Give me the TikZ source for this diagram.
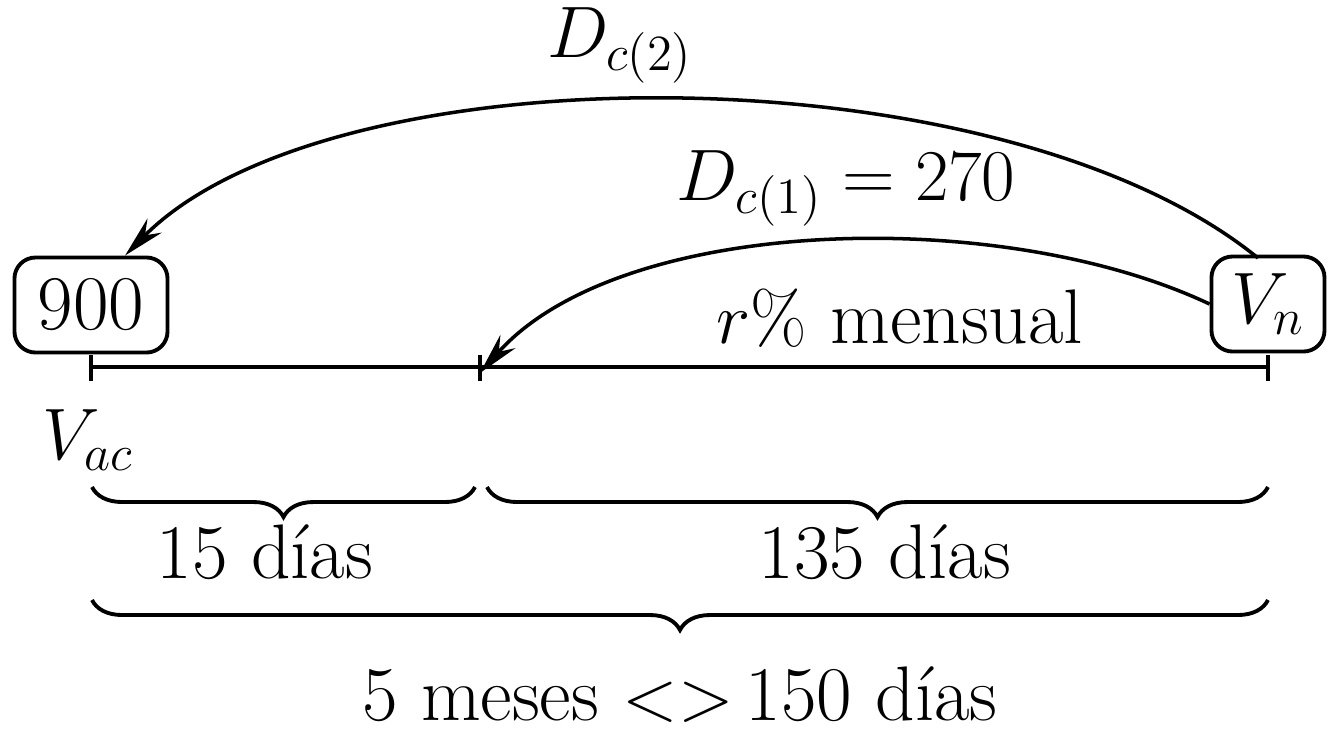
\documentclass[tikz,border=0pt]{standalone}
\usepackage{amsmath,amssymb}
\usepackage{tikz}
\usetikzlibrary{arrows.meta,decorations.pathreplacing}

\begin{document}
\begin{tikzpicture}[x=0.01cm,y=-0.01cm,every node/.style={font=\fontsize{22}{26}\selectfont},
  box/.style={draw,line width=1.1pt,rounded corners=6pt,inner sep=0pt},
  tick/.style={line width=1.1pt},
  brc/.style={decorate,decoration={brace,mirror,amplitude=0.3cm},line width=1.1pt},
  arr/.style={line width=1pt,-{Stealth[length=0.42cm,width=0.2cm]}}]
\useasboundingbox (0,0) rectangle (1329,735);
% time line
\coordinate (t0) at (91,367);
\coordinate (t1) at (480,367);
\coordinate (t2) at (1268,367);
\draw[tick] (t0) -- (t2);
\draw[tick] ([yshift=0.12cm]t0) -- ([yshift=-0.14cm]t0);
\draw[tick] ([yshift=0.12cm]t1) -- ([yshift=-0.14cm]t1);
\draw[tick] ([yshift=0.12cm]t2) -- ([yshift=-0.14cm]t2);
% values
\node[box,minimum width=1.53cm,minimum height=0.95cm] (cap) at (91,305) {900};
\node[box,minimum width=1.13cm,minimum height=0.95cm] (vn) at (1268,304) {$V_n$};
\node (vac) at (88,440) {$V_{ac}$};
\node (tasa) at (900,318) {$r\%$ mensual};
% discounts
\coordinate (s2) at (1258,258);
\draw[arr] (s2) .. controls (1000,48) and (330,48) .. ([xshift=0.34cm]cap.north);
\node (dc2) at (620,45) {$D_{c(2)}$};
\draw[arr] (vn.west) .. controls (1000,205) and (620,215) .. ([yshift=-0.06cm]t1);
\node (dc1) at (846,188) {$D_{c(1)}=270$};
% periods
\draw[brc] (92,487) -- (475,487);
\node (p1) at (265,552) {15 días};
\draw[brc] (487,487) -- (1268,487);
\node (p2) at (885,552) {135 días};
\draw[brc] (92,600) -- (1268,600);
\node (p3) at (680,695) {5 meses ${<}{>}\,$150 días};
\end{tikzpicture}
\end{document}
